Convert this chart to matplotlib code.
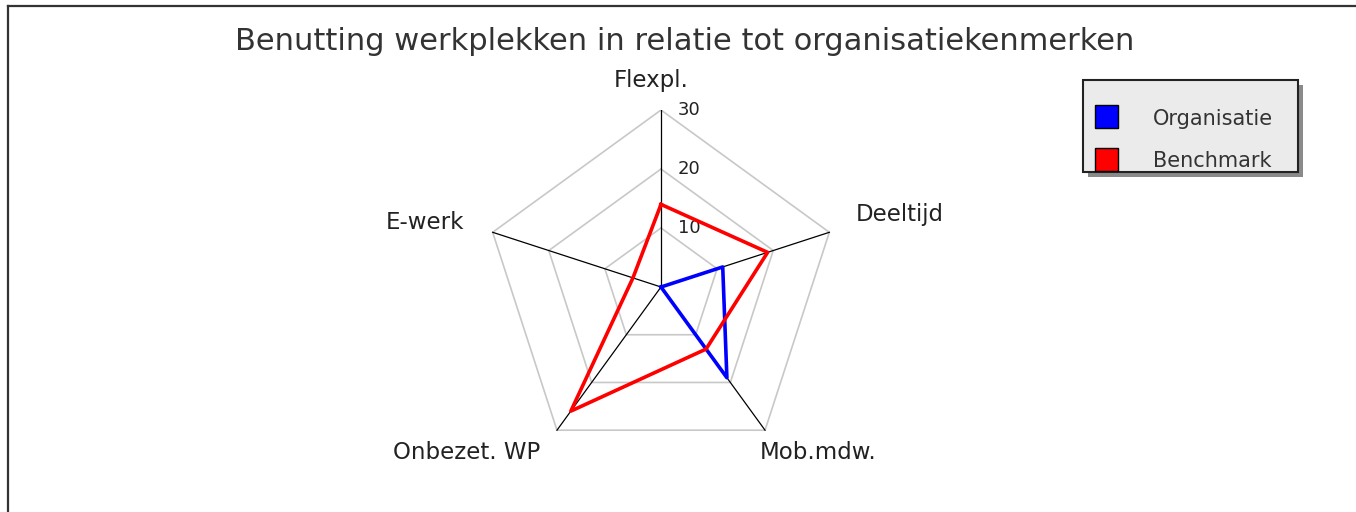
import numpy as np
import matplotlib.pyplot as plt
from matplotlib.patches import Rectangle

# data
categories = ['Flexpl.', 'Deeltijd', 'Mob.mdw.', 'Onbezet. WP', 'E-werk']
organisatie = [0, 11, 19, 0, 0]
benchmark = [14, 19, 13, 26, 5]
series_names = ['Organisatie', 'Benchmark']
series_colors = ['#0000ff', '#ff0000']
rings = [10, 20, 30]
ring_labels = ['10', '20', '30']
rmax = 30
title = 'Benutting werkplekken in relatie tot organisatiekenmerken'

W, H = 1356, 512
cx, cy, R = 661, 287, 177  # centre and radius of the web in pixels

fig = plt.figure(figsize=(W / 100, H / 100), dpi=100)

# full-figure pixel axes for frame, title and legend
bg = fig.add_axes([0, 0, 1, 1])
bg.set_xlim(0, W)
bg.set_ylim(H, 0)
bg.axis('off')

ax = fig.add_axes([(cx - R) / W, (H - cy - R) / H, 2 * R / W, 2 * R / H])
ax.set_xlim(-rmax, rmax)
ax.set_ylim(-rmax, rmax)
ax.axis('off')

theta = np.arange(len(categories)) * 2 * np.pi / len(categories)
sx, sy = np.sin(theta), np.cos(theta)

def ring(v):
    v = np.asarray(v, dtype=float)
    return np.append(v * sx, v[0] * sx[0]), np.append(v * sy, v[0] * sy[0])

# web
for r in rings:
    ax.plot(*ring([r] * len(categories)), color='#c8c8c8', lw=1.2, zorder=1)
for x, y in zip(sx, sy):
    ax.plot([0, rmax * x], [0, rmax * y], color='black', lw=0.9, zorder=2)

for r, lab in zip(rings, ring_labels):
    ax.annotate(lab, (0, r), xytext=(17, 0), textcoords='offset pixels',
                ha='left', va='center', fontsize=13, color='#222222')

# category labels (offset in pixels from the outer vertex, alignment)
label_pos = [(-10, 30, 'center'), (26, 18, 'left'), (-5, -22, 'left'),
             (-17, -22, 'right'), (-28, 10, 'right')]
for lab, x, y, (dx, dy, ha) in zip(categories, sx, sy, label_pos):
    ax.annotate(lab, (rmax * x, rmax * y), xytext=(dx, dy),
                textcoords='offset pixels', ha=ha, va='center',
                fontsize=16.5, color='#222222', annotation_clip=False)

# series
for vals, c in zip([organisatie, benchmark], series_colors):
    ax.plot(*ring(vals), color=c, lw=2.6, zorder=3, clip_on=False)

# title
bg.text(685, 42, title, ha='center', va='center', fontsize=22, color='#333333')

# frame (left and top edges only are visible)
bg.plot([8, 8], [6, H], color='#333333', lw=1.6, clip_on=False)
bg.plot([8, W], [6, 6], color='#333333', lw=1.6, clip_on=False)

# legend
bg.add_patch(Rectangle((1088, 85), 215, 92, fc='#8a8a8a', ec='none'))
bg.add_patch(Rectangle((1083, 80), 215, 92, fc='#ebebeb', ec='#222222', lw=1.5))
for i, (name, c) in enumerate(zip(series_names, series_colors)):
    bg.add_patch(Rectangle((1095, 105 + i * 43), 23, 23, fc=c, ec='black', lw=1))
    bg.text(1153, 119 + i * 42, name, ha='left', va='center',
            fontsize=15, color='#333333')

fig.savefig('out.png', dpi=100)
